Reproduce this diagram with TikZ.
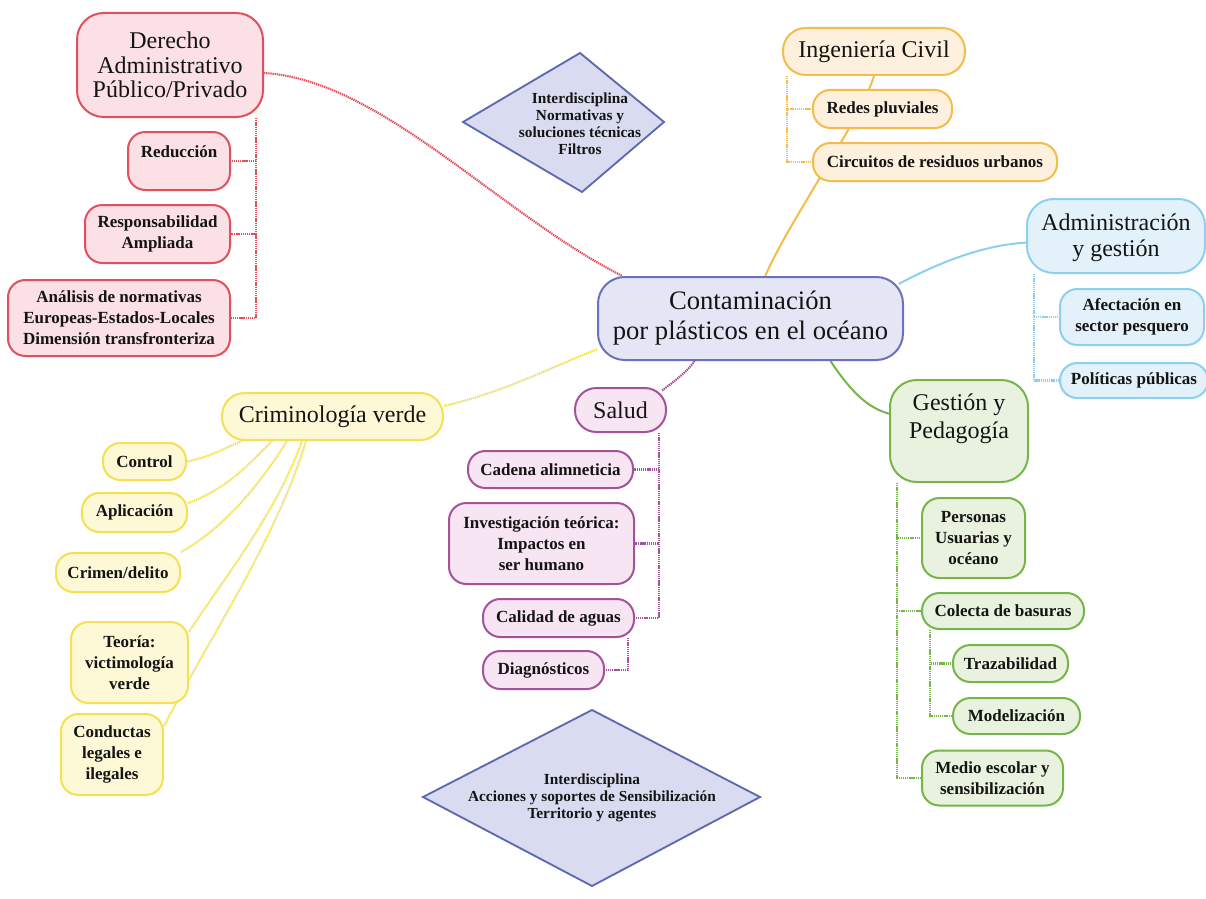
\documentclass[tikz,border=0pt]{standalone}
\usepackage{fontspec}
\setmainfont{Liberation Serif}
\usetikzlibrary{backgrounds}

\definecolor{ink}{HTML}{141414}
\definecolor{redline}{HTML}{E2505F}
\definecolor{redfill}{HTML}{FBE0E5}
\definecolor{orline}{HTML}{F4BC4A}
\definecolor{orfill}{HTML}{FDF1DE}
\definecolor{blline}{HTML}{8DCFEE}
\definecolor{blfill}{HTML}{E3F2FA}
\definecolor{grline}{HTML}{76B648}
\definecolor{grfill}{HTML}{E9F2DF}
\definecolor{puline}{HTML}{A4539B}
\definecolor{pufill}{HTML}{F7E5F3}
\definecolor{yeline}{HTML}{F4E050}
\definecolor{yefill}{HTML}{FDF8D6}
\definecolor{cenline}{HTML}{6C72B9}
\definecolor{cenfill}{HTML}{E4E6F5}
\definecolor{dialine}{HTML}{5F69B0}
\definecolor{diafill}{HTML}{D9DCF0}

\tikzset{
  box/.style={draw, line width=1.5pt, inner sep=0pt, align=center, text=ink},
  sz/.style 2 args={minimum width=#1*0.75pt, minimum height=#2*0.75pt},
  branch/.style={box, rounded corners=20pt, font=\fontsize{18}{19.5}\selectfont},
  leaf/.style={box, rounded corners=13pt, font=\fontsize{12.75}{15.75}\selectfont\bfseries},
  centre/.style={box, draw=cenline, fill=cenfill, rounded corners=20pt,
                 font=\fontsize{20}{22.5}\selectfont},
  redbr/.style={branch, draw=redline, fill=redfill},
  redlf/.style={leaf, draw=redline, fill=redfill},
  orbr/.style={branch, draw=orline, fill=orfill, rounded corners=17pt},
  orlf/.style={leaf, draw=orline, fill=orfill},
  blbr/.style={branch, draw=blline, fill=blfill},
  bllf/.style={leaf, draw=blline, fill=blfill},
  grbr/.style={branch, draw=grline, fill=grfill},
  grlf/.style={leaf, draw=grline, fill=grfill},
  pubr/.style={branch, draw=puline, fill=pufill},
  pulf/.style={leaf, draw=puline, fill=pufill},
  yebr/.style={branch, draw=yeline, fill=yefill},
  yelf/.style={leaf, draw=yeline, fill=yefill},
  dia/.style={draw=dialine, fill=diafill, line width=1.4pt, line join=miter},
  diatext/.style={align=center, inner sep=0pt, text=ink,
                  font=\fontsize{11.5}{12.75}\selectfont\bfseries},
  tree/.style={line width=1.6pt, dash pattern=on 1pt off 0.6pt},
  link/.style={line width=1.5pt},
}

\begin{document}
\begin{tikzpicture}[x=0.75pt, y=-0.75pt]
\useasboundingbox (0,0) rectangle (1206,899);

% central topic
\node[centre, sz={305}{83}] (cen) at (750.5,318.5) {Contaminación\\por plásticos en el océano};

% Derecho
\node[redbr, sz={186}{104}, font=\fontsize{18}{18.2}\selectfont] (der) at (170,65) {Derecho\\Administrativo\\Público/Privado};
\node[redlf, sz={102}{58}, text depth=14pt] (red1) at (179,161) {Reducción};
\node[redlf, sz={145}{58}] (red2) at (157.5,234) {Responsabilidad\\Ampliada};
\node[redlf, sz={222}{76}] (red3) at (119,318) {Análisis de normativas\\Europeas-Estados-Locales\\Dimensión transfronteriza};

% Ingenieria
\node[orbr, sz={182}{47}] (ing) at (874,51.5) {Ingeniería Civil};
\node[orlf, sz={139}{38}] (redes) at (882.5,109) {Redes pluviales};
\node[orlf, sz={244}{38}] (circ) at (935,162) {Circuitos de residuos urbanos};

% Administracion
\node[blbr, sz={178}{74}, text depth=2pt] (adm) at (1116,236) {Administración\\y gestión};
\node[bllf, sz={144}{56}] (afe) at (1132,317) {Afectación en\\sector pesquero};
\node[bllf, sz={148}{35}] (pol) at (1134,380.5) {Políticas públicas};

% Gestion
\node[grbr, sz={138}{102}, text depth=22pt, font=\fontsize{18}{21}\selectfont] (gest) at (959,431) {Gestión y\\Pedagogía};
\node[grlf, sz={103}{80}] (pers) at (973.5,538) {Personas\\Usuarias y\\océano};
\node[grlf, sz={162}{36}] (col) at (1003,611) {Colecta de basuras};
\node[grlf, sz={115}{37}] (traz) at (1010.5,663.5) {Trazabilidad};
\node[grlf, sz={127}{36}] (mod) at (1016.5,716) {Modelización};
\node[grlf, sz={141}{55}] (medio) at (992.5,778) {Medio escolar y\\sensibilización};

% Salud
\node[pubr, sz={91}{44}, rounded corners=16pt] (sal) at (620.5,410) {Salud};
\node[pulf, sz={165}{37}] (cad) at (550.5,469.5) {Cadena alimneticia};
\node[pulf, sz={185}{81}] (inv) at (541.5,543.5) {Investigación teórica:\\Impactos en\\ser humano};
\node[pulf, sz={151}{38}] (cal) at (558.5,618) {Calidad de aguas};
\node[pulf, sz={121}{38}] (diag) at (543.5,670) {Diagnósticos};

% Criminologia
\node[yebr, sz={221}{47}, rounded corners=17pt] (crim) at (332.5,416.5) {Criminología verde};
\node[yelf, sz={83}{37}] (ctl) at (144.5,461.5) {Control};
\node[yelf, sz={105}{39}] (apl) at (134.5,512.5) {Aplicación};
\node[yelf, sz={124}{39}] (cri) at (118,572.5) {Crimen/delito};
\node[yelf, sz={117}{81}] (teo) at (129.5,662.5) {Teoría:\\victimología\\verde};
\node[yelf, sz={102}{81}] (con) at (112,754.5) {Conductas\\legales e\\ilegales};

% interdisciplinary diamonds
\draw[dia] (463,122) -- (580,53) -- (664,122) -- (582,192) -- cycle;
\node[diatext] (d1) at (580,124) {Interdisciplina\\Normativas y\\soluciones técnicas\\Filtros};
\draw[dia] (423,797) -- (592,710) -- (760,797) -- (592,886) -- cycle;
\node[diatext, font=\fontsize{11.5}{12.5}\selectfont\bfseries] (d2) at (592,798) {Interdisciplina\\Acciones y soportes de Sensibilización\\Territorio y agentes};

\begin{pgfonlayer}{background}
\fill[white] (0,0) rectangle (1206,899);

% links from the central topic
\draw[tree, redline] ([yshift=-6pt]der.east) .. controls +(117,7) and +(-123,-62) .. ([xshift=19pt]cen.north west);
\draw[link, orline] ([xshift=11pt]cen.north) .. controls +(25,-57) and +(-14,45) .. (ing.south);
\draw[link, blline] ([xshift=-4pt,yshift=-6pt]cen.north east) .. controls +(43,-23) and +(-40,2) .. ([yshift=-5pt]adm.west);
\draw[link, grline] ([xshift=60pt]cen.south) .. controls +(20,30) and +(-22,-6) .. ([yshift=13pt]gest.west);
\draw[tree, puline] ([xshift=-42pt]cen.south) .. controls +(-10,14) and +(12,-10) .. ([xshift=-4pt,yshift=-3pt]sal.north east);
\draw[tree, yeline] ([yshift=8pt]crim.east) .. controls +(55,-12) and +(-45,18) .. ([yshift=-23pt]cen.west);

% Derecho tree
\draw[tree, redline] ([xshift=-6pt]der.south east) |- (red1.east);
\draw[tree, redline] ([xshift=-6pt]der.south east) |- (red2.east);
\draw[tree, redline] ([xshift=-6pt]der.south east) |- (red3.east);

% Ingenieria tree
\draw[tree, orline] ([xshift=3.75pt]ing.south west) |- (redes.west);
\draw[tree, orline] ([xshift=3.75pt]ing.south west) |- (circ.west);

% Administracion tree
\draw[tree, blline] ([xshift=6pt]adm.south west) |- (afe.west);
\draw[tree, blline] ([xshift=6pt]adm.south west) |- (pol.west);

% Gestion tree
\draw[tree, grline] ([xshift=6pt]gest.south west) |- (pers.west);
\draw[tree, grline] ([xshift=6pt]gest.south west) |- (col.west);
\draw[tree, grline] ([xshift=6pt]gest.south west) |- (medio.west);
\draw[tree, grline] ([xshift=6.75pt]col.south west) |- (traz.west);
\draw[tree, grline] ([xshift=6.75pt]col.south west) |- (mod.west);

% Salud tree
\draw[tree, puline] ([xshift=-6pt]sal.south east) |- (cad.east);
\draw[tree, puline] ([xshift=-6pt]sal.south east) |- (inv.east);
\draw[tree, puline] ([xshift=-6pt]sal.south east) |- (cal.east);
\draw[tree, puline] ([xshift=-5pt]cal.south east) |- (diag.east);

% Criminologia fan
\draw[tree, yeline] (ctl.east) .. controls +(25,-5) and +(-20,8) .. ([xshift=15.75pt]crim.south west);
\draw[tree, yeline] ([yshift=7pt]apl.east) .. controls +(40,-15) and +(-25,25) .. ([xshift=38.25pt]crim.south west);
\draw[tree, yeline] (cri.north east) .. controls +(45,-25) and +(-25,40) .. ([xshift=49.5pt]crim.south west);
\draw[tree, yeline] ([yshift=-8pt]teo.north east) .. controls +(40,-60) and +(-25,70) .. ([xshift=60.75pt]crim.south west);
\draw[tree, yeline] ([yshift=-10pt]con.north east) .. controls +(40,-80) and +(-30,100) .. ([xshift=63.75pt]crim.south west);
\end{pgfonlayer}
\end{tikzpicture}
\end{document}
